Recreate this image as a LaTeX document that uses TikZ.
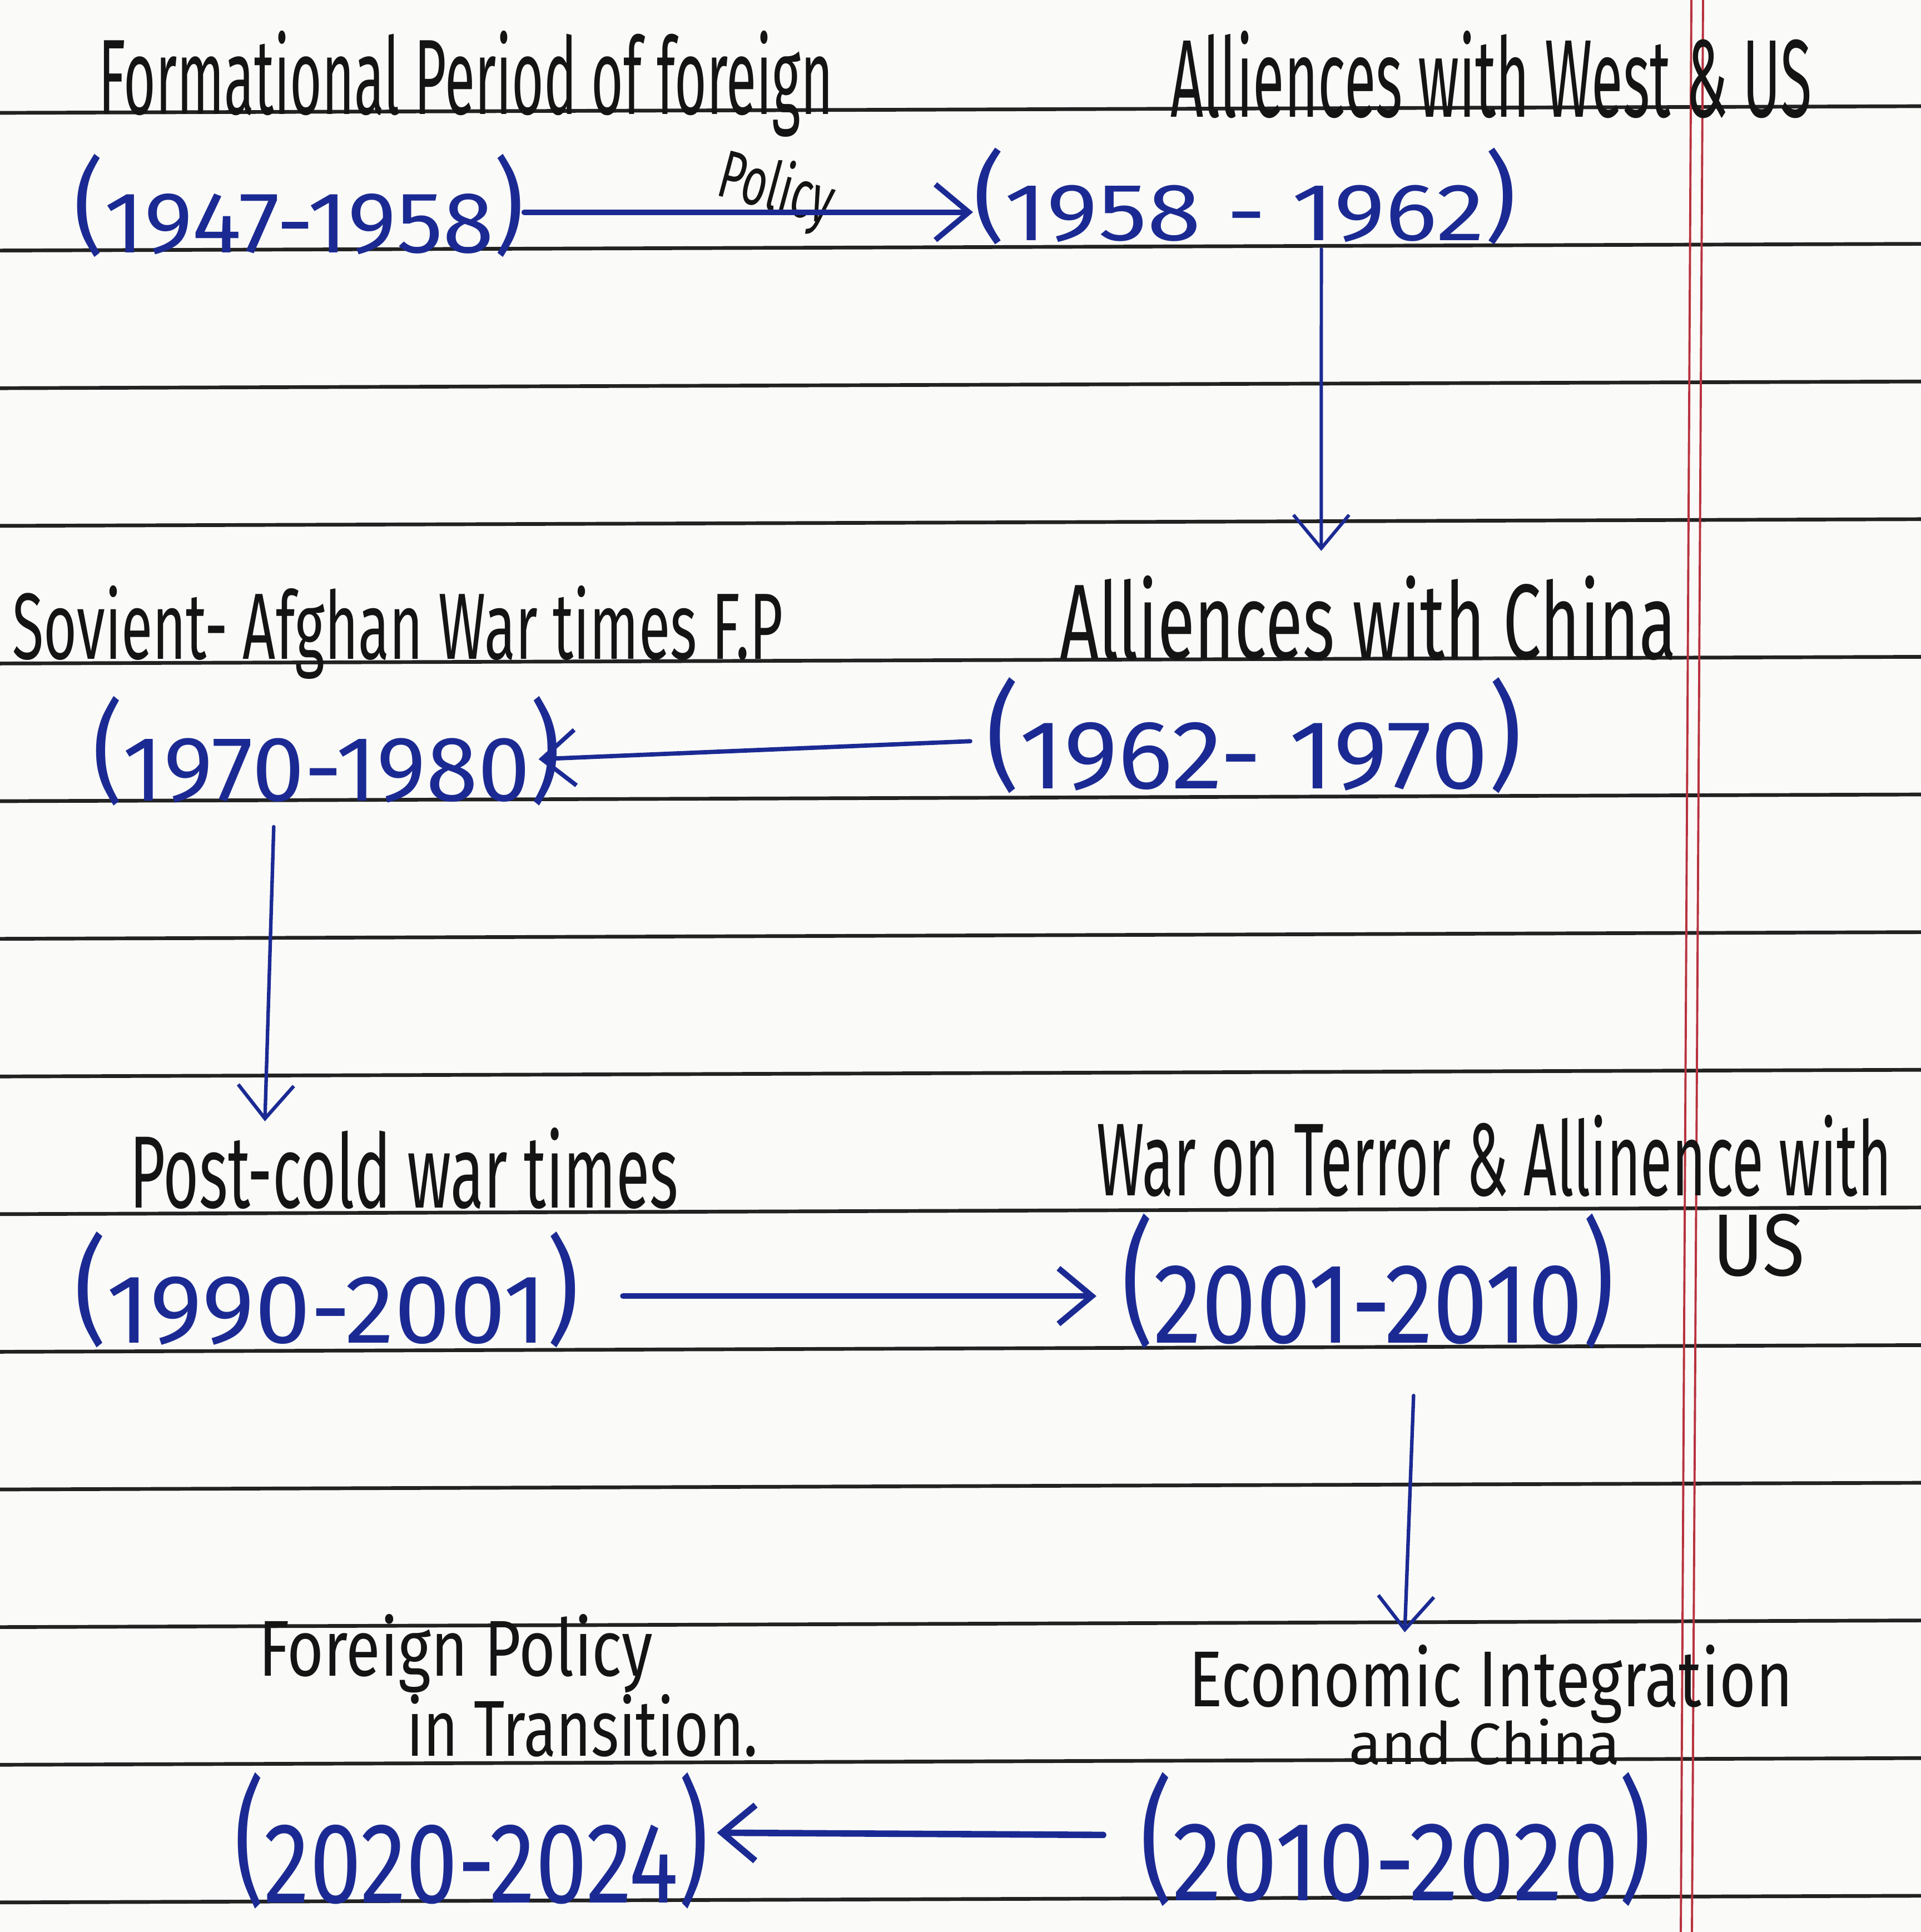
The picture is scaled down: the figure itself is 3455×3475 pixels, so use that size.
\documentclass[tikz,border=0pt]{standalone}
\usepackage{fontspec}
\setmainfont{Fira Sans}
\usepackage{graphicx}
\usetikzlibrary{arrows.meta,calc}
\definecolor{ink}{HTML}{1B2A93}
\definecolor{pen}{HTML}{141414}
\definecolor{ruleink}{HTML}{222222}
\definecolor{marginred}{HTML}{B8323E}
\definecolor{paper}{HTML}{FAFAF8}
\newcommand{\yrs}[1]{\raisebox{0.12em}{\scalebox{1}[1.2]{(}}#1\raisebox{0.12em}{\scalebox{1}[1.2]{)}}}
\newcommand{\hw}[3]{\resizebox{#1cm}{#2cm}{#3}}
\begin{document}
\begin{tikzpicture}[x=0.01cm,y=-0.01cm,
  lbl/.style={inner sep=0pt,outer sep=0pt,anchor=base west,text=pen},
  yr/.style={lbl,text=ink},
  arr/.style={draw=ink,line cap=round,-{Straight Barb[length=0.6cm,width=1.0cm]}},
  ruled/.style={draw=ruleink,line width=1.9pt},
  marginl/.style={draw=marginred,line width=1.1pt}]
\useasboundingbox (0,0) rectangle (3455,3475);
\fill[paper] (0,0) rectangle (3455,3475);
\foreach \k in {0,...,13}
  \draw[ruled] (0,{203+247.6*\k}) -- (3455,{191+247.6*\k});
\draw[marginl] (3042,0) -- (3023,3475);
\draw[marginl] (3063,0) -- (3043,3475);

% labels
\node[lbl] (t1) at (177,205) {\hw{13.20}{1.50}{Formational Period of foreign}};
\node[lbl,rotate=-15] (t1b) at (1285,350) {\hw{2.10}{0.95}{Policy}};
\node[lbl] (K) at (2105,210) {\hw{11.53}{1.55}{Alliences with West \& US}};
\node[lbl] (L) at (1906,1185) {\hw{11.08}{1.50}{Alliences with China}};
\node[lbl] (M) at (22,1185) {\hw{13.85}{1.32}{Sovient- Afghan War times F.P}};
\node[lbl] (N) at (233,2172) {\hw{9.86}{1.44}{Post-cold war times}};
\node[lbl] (O) at (1972,2150) {\hw{14.29}{1.45}{War on Terror \& Allinence with}};
\node[lbl] (P) at (3080,2294) {\hw{1.66}{1.11}{US}};
\node[lbl] (Q) at (2138,3069) {\hw{10.86}{1.11}{Economic Integration}};
\node[lbl] (R) at (2426,3173) {\hw{4.88}{0.82}{and China}};
\node[lbl] (S) at (465,3014) {\hw{7.09}{1.11}{Foreign Policy}};
\node[lbl] (T) at (731,3158) {\hw{6.32}{1.11}{in Transition.}};

% dates
\node[yr] (C) at (133,454) {\hw{8.09}{1.77}{\yrs{1947-1958}}};
\node[yr] (D) at (1750,432) {\hw{9.76}{1.66}{\yrs{1958 - 1962}}};
\node[yr] (E) at (1773,1418) {\hw{9.64}{1.99}{\yrs{1962- 1970}}};
\node[yr] (F) at (166,1440) {\hw{8.42}{1.88}{\yrs{1970-1980}}};
\node[yr] (G) at (133,2415) {\hw{9.08}{1.99}{\yrs{1990-2001}}};
\node[yr] (H) at (2017,2415) {\hw{8.86}{2.32}{\yrs{2001-2010}}};
\node[yr] (I) at (2050,3418) {\hw{9.19}{2.30}{\yrs{2010-2020}}};
\node[yr] (J) at (421,3422) {\hw{8.53}{2.34}{\yrs{2020-2024}}};

% arrows
\draw[arr,line width=2.8pt] ($(C.east)+(0,12)$) -- ($(D.west |- C.east)+(0,12)$);
\draw[arr,line width=1.7pt] ($(D.south)+(138,8)$) -- ($(L.north)+(-84,-44)$);
\draw[arr,line width=2.2pt] ($(E.west)+(-28,10)$) -- ($(F.east)+(-40,15)$);
\draw[arr,line width=1.8pt] ($(F.south)+(-95,38)$) -- ($(N.north)+(-250,-11)$);
\draw[arr,line width=3pt] ($(G.east)+(79,11)$) -- ($(H.west |- G.east)+(-45,11)$);
\draw[arr,line width=1.8pt] ($(H.south)+(82,84)$) -- ($(Q.north)+(-155,-22)$);
\draw[arr,line width=3.3pt] ($(I.west)+(-66,-8)$) -- ($(J.east |- I.west)+(15,-12)$);
\end{tikzpicture}
\end{document}
